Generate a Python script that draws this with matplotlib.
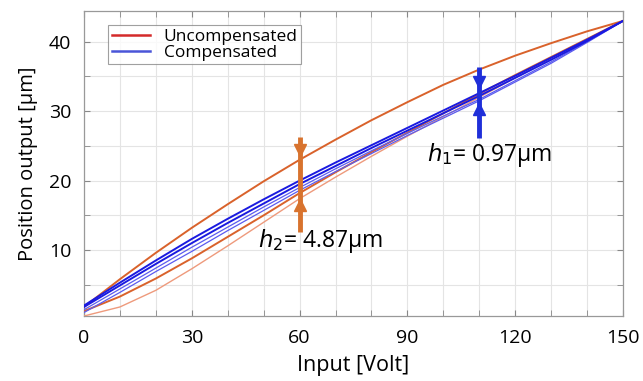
import matplotlib
matplotlib.use("Agg")
import matplotlib.pyplot as plt
from matplotlib.ticker import MultipleLocator

plt.rcParams['font.family'] = ['Open Sans', 'DejaVu Sans']
plt.rcParams['mathtext.fontset'] = 'dejavusans'

# Input voltage samples
volt = [0, 10, 20, 30, 40, 50, 60, 70, 80, 90, 100, 110, 120, 130, 140, 150]

# Uncompensated hysteresis branches (position in um)
unc_desc = [1.8, 5.8, 9.6, 13.2, 16.6, 19.9, 23.0, 25.9, 28.7, 31.3, 33.8, 36.0, 38.0, 39.8, 41.5, 43.0]
unc_asc = [1.2, 3.3, 5.9, 8.8, 11.9, 15.0, 18.2, 21.2, 24.1, 26.9, 29.7, 32.5, 35.2, 37.8, 40.4, 43.0]
unc_first = [0.5, 1.8, 4.2, 7.3, 10.6, 14.0, 17.4, 20.5, 23.5, 26.4, 29.2, 32.0, 34.8, 37.6, 40.3, 43.0]

# Compensated branches
comp_up = [2.0, 5.3, 8.5, 11.6, 14.5, 17.3, 20.0, 22.6, 25.1, 27.6, 30.1, 32.6, 35.1, 37.7, 40.3, 43.0]
comp_mid = [1.8, 4.9, 8.0, 11.0, 13.9, 16.7, 19.5, 22.1, 24.7, 27.2, 29.7, 32.2, 34.8, 37.4, 40.1, 43.0]
comp_low1 = [1.4, 4.4, 7.4, 10.4, 13.3, 16.2, 19.0, 21.7, 24.3, 26.8, 29.3, 31.7, 34.4, 37.1, 40.0, 43.0]
comp_low2 = [1.0, 3.9, 6.9, 9.8, 12.8, 15.7, 18.6, 21.3, 23.9, 26.5, 29.0, 31.5, 34.2, 36.9, 39.9, 43.0]

# Annotation values
h2_x, h2_top, h2_bot = 60, 26.3, 12.6
h1_x, h1_top, h1_bot = 110, 36.3, 26.2
h2_label = r'$h_2$= 4.87μm'
h1_label = r'$h_1$= 0.97μm'

fig = plt.figure(figsize=(6.43, 3.81), dpi=100)
ax = fig.add_axes([0.1306, 0.1706, 0.8383, 0.8018])

orange = '#D9622B'
light_orange = '#EE9A7C'
blue = '#1A1AE0'
light_blue = '#5B5BEF'

ax.plot(volt, unc_first, color=light_orange, lw=1.0, zorder=3)
ax.plot(volt, unc_asc, color=orange, lw=1.4, zorder=3)
ax.plot(volt, unc_desc, color=orange, lw=1.4, zorder=3)
ax.plot(volt, comp_low2, color=light_blue, lw=0.9, zorder=4)
ax.plot(volt, comp_low1, color=light_blue, lw=0.9, zorder=4)
ax.plot(volt, comp_mid, color=blue, lw=1.4, zorder=4)
ax.plot(volt, comp_up, color=blue, lw=1.4, zorder=4)

# legend proxies
ax.plot([], [], color='#D42A2A', lw=1.8, label='Uncompensated')
ax.plot([], [], color='#4A55D8', lw=1.8, label='Compensated')
leg = ax.legend(loc='upper left', bbox_to_anchor=(0.045, 0.952), fontsize=12.5,
                frameon=True, fancybox=False, edgecolor='#888888',
                borderpad=0.2, labelspacing=0.0, handlelength=2.2,
                handletextpad=0.8, borderaxespad=0)
leg.get_frame().set_linewidth(0.8)

# measurement arrows
arrow_orange = '#D8732E'
arrow_blue = '#1F2FD9'
ax.plot([h2_x, h2_x], [h2_bot, h2_top], color=arrow_orange, lw=3.5, zorder=5,
        solid_capstyle='butt')
ax.plot([h2_x], [24.4], marker='v', color=arrow_orange, ms=9, zorder=6)
ax.plot([h2_x], [16.5], marker='^', color=arrow_orange, ms=9, zorder=6)
ax.plot([h1_x, h1_x], [h1_bot, h1_top], color=arrow_blue, lw=3.5, zorder=5,
        solid_capstyle='butt')
ax.plot([h1_x], [34.2], marker='v', color=arrow_blue, ms=9, zorder=6)
ax.plot([h1_x], [30.3], marker='^', color=arrow_blue, ms=9, zorder=6)

ax.text(48.4, 11.3, h2_label, fontsize=16.5, ha='left', va='center', zorder=7)
ax.text(95.5, 23.7, h1_label, fontsize=16.5, ha='left', va='center', zorder=7)

ax.set_xlim(0, 150)
ax.set_ylim(0.5, 44.5)
ax.xaxis.set_major_locator(MultipleLocator(30))
ax.xaxis.set_minor_locator(MultipleLocator(10))
ax.yaxis.set_major_locator(MultipleLocator(10))
ax.yaxis.set_minor_locator(MultipleLocator(5))
ax.grid(True, which='both', color='#E4E4E4', lw=0.8, zorder=0)
ax.set_axisbelow(True)
ax.tick_params(which='both', direction='in', top=True, right=True,
               color='#888888', labelsize=14, pad=9)
ax.tick_params(which='major', length=4)
ax.tick_params(which='minor', length=4)
for s in ax.spines.values():
    s.set_color('#999999')
    s.set_linewidth(0.9)

ax.set_xlabel('Input [Volt]', fontsize=15.5, labelpad=6)
ax.set_ylabel('Position output [μm]', fontsize=14.5, labelpad=8)

fig.savefig('out.png', dpi=100)
